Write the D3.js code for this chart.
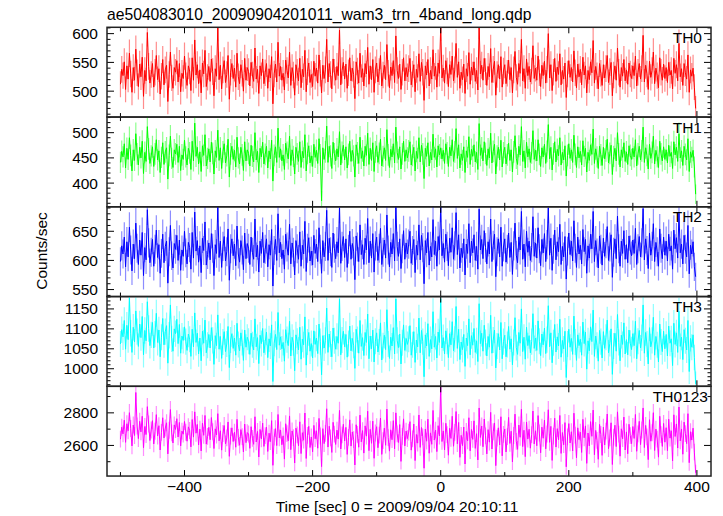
<!DOCTYPE html>
<html><head><meta charset="utf-8">
<script src="https://cdn.jsdelivr.net/npm/d3@7"></script>
<style>body{margin:0;background:#fff}svg{display:block}</style>
</head><body>
<script>
// ---- data (counts/sec, 2-s samples) ----
const title = "ae504083010_20090904201011_wam3_trn_4band_long.qdp";
const xLabel = "Time [sec] 0 = 2009/09/04 20:10:11";
const yLabel = "Counts/sec";
const timeStart = -500, timeStep = 2;
const xTicks = [-400, -200, 0, 200, 400];
const panelNames = ["TH0", "TH1", "TH2", "TH3", "TH0123"];
const panelColors = ["#ff0000", "#00ff00", "#0000ff", "#00ffff", "#ff00ff"];
const yDomains = [[455, 611], [353, 531], [538, 692], [956, 1181], [2412, 2963]];
const yMajorTicks = [[500, 550, 600], [400, 450, 500], [550, 600, 650], [1000, 1050, 1100, 1150], [2600, 2800]];
const yMinorStep = [10, 10, 10, 10, 100];

const th0 = [
512,538,527,551,503,544,521,566,530,498,541,519,573,532,508,547,525,559,491,536,518,602,543,514,529,
548,507,533,562,520,539,495,526,555,511,537,545,482,529,568,523,505,541,533,553,516,548,499,531,522,
561,527,510,544,535,501,558,519,589,528,546,513,537,497,549,530,571,508,524,543,517,556,534,492,539,
526,611,520,545,504,537,553,515,529,562,486,533,548,522,540,507,566,525,513,546,531,500,557,519,541,
534,509,550,528,517,575,521,538,496,544,527,556,513,532,548,505,539,523,560,478,530,547,516,585,526,
543,519,531,502,554,536,523,568,510,541,528,493,546,533,518,557,506,538,525,571,499,534,549,515,529,
508,552,526,540,514,563,531,497,545,522,537,590,516,548,529,504,556,533,519,543,527,606,511,536,550,
521,547,505,532,558,518,540,529,487,551,535,514,566,524,539,509,548,530,576,512,544,520,555,498,537,
549,516,534,562,509,528,545,520,581,531,506,542,527,553,515,596,536,522,547,503,533,558,518,541,525,
539,557,511,530,546,499,538,524,565,517,550,533,484,544,528,555,509,536,521,572,526,543,507,549,531,
612,523,540,514,553,535,508,546,529,561,518,537,583,524,551,505,533,520,547,496,539,526,567,512,542,
528,551,517,536,502,615,530,545,519,557,534,510,543,525,574,515,538,552,493,529,546,521,560,507,535,
546,513,531,554,520,541,497,537,569,524,512,548,531,590,518,539,505,556,527,543,516,535,579,522,540,
519,561,532,508,545,527,552,514,538,600,523,546,501,533,557,517,542,529,565,511,536,521,549,489,530,
553,524,541,516,570,532,506,547,525,538,511,559,528,544,497,536,520,551,532,588,514,543,527,504,548,
531,510,546,523,539,562,515,534,550,492,528,544,519,575,533,507,541,526,555,518,537,512,549,530,522,
544,527,561,509,533,548,521,539,597,516,545,530,503,552,524,536,568,513,540,527,506,558,533,519,547,
522,541,515,550,528,536,504,557,531,546,518,583,525,539,510,548,532,521,563,498,537,526,540,507,470];

const th1 = [
441,463,452,478,430,469,447,490,455,424,466,445,498,458,436,471,450,483,419,461,443,512,468,439,454,
472,433,458,486,446,464,421,451,480,437,462,470,408,455,493,449,431,466,458,477,441,473,425,456,447,
485,452,436,469,460,427,483,444,519,453,471,438,462,423,474,455,496,434,449,468,442,481,459,418,464,
451,505,445,470,429,462,478,440,454,487,412,458,473,447,465,432,491,450,438,471,456,425,482,444,466,
459,434,475,453,442,500,446,463,421,469,452,481,438,457,473,430,464,448,485,404,455,472,441,509,451,
468,444,456,427,479,461,448,493,435,466,453,418,471,458,443,482,431,463,450,496,424,459,474,440,454,
433,477,451,465,439,488,456,365,470,447,462,513,441,473,454,429,481,458,444,468,452,502,436,461,475,
446,472,430,457,483,443,465,454,412,476,460,439,491,449,464,434,473,455,499,437,469,445,480,423,462,
474,441,459,487,434,453,470,445,506,456,431,467,452,478,440,511,461,447,472,428,458,483,443,466,450,
464,482,436,455,471,424,463,449,490,442,475,458,409,469,453,480,434,461,446,497,451,468,432,474,456,
470,448,465,439,478,460,433,471,454,486,443,462,508,449,476,430,458,445,472,421,464,451,492,437,467,
453,476,442,461,427,518,455,470,444,482,459,435,468,450,499,440,463,477,418,454,471,446,485,432,460,
471,438,456,479,445,466,422,462,494,449,437,473,456,512,443,464,430,481,452,468,441,460,504,447,465,
444,486,457,433,470,452,477,439,463,516,448,471,426,458,482,442,467,454,490,436,461,446,474,414,455,
478,449,466,441,495,457,431,472,450,463,436,484,453,469,422,461,445,476,457,507,439,468,452,429,473,
456,435,471,448,464,487,440,459,475,417,453,469,444,500,458,432,466,451,480,443,462,437,474,455,447,
469,452,486,434,458,473,446,464,511,441,470,455,428,477,449,461,493,438,465,452,431,483,458,444,472,
447,466,440,475,453,461,429,482,456,471,443,498,450,464,435,473,457,446,488,423,462,451,465,432,378];

const th2 = [
598,625,611,640,589,632,606,657,618,582,628,603,664,621,593,635,609,648,574,622,601,687,630,596,614,
636,590,619,652,605,627,578,612,645,596,624,633,561,615,660,608,587,629,619,643,600,635,583,618,607,
650,613,594,631,622,585,648,604,683,616,634,597,625,579,638,617,666,592,610,630,601,646,621,574,627,
612,692,605,633,588,624,641,599,615,654,566,620,637,608,628,591,659,611,597,634,618,584,647,603,629,
621,593,640,614,602,671,606,626,580,633,612,648,596,619,637,589,627,609,653,556,617,636,600,680,613,
631,603,618,585,645,623,609,662,594,630,614,575,634,620,602,649,590,626,611,667,581,621,639,599,616,
592,643,612,628,598,656,619,578,634,606,624,686,600,638,615,588,647,621,603,632,613,690,595,624,641,
605,637,588,619,650,602,629,616,567,642,623,598,661,610,627,593,638,618,672,596,633,604,646,580,625,
640,600,621,655,593,614,635,604,678,618,589,631,611,646,599,692,624,607,637,586,620,651,602,630,611,
628,650,595,617,636,579,626,609,661,601,643,622,560,634,613,648,592,624,606,670,610,633,590,641,618,
692,608,629,597,645,624,591,638,614,656,602,625,682,610,644,587,621,605,637,575,628,612,663,596,633,
613,644,600,624,585,688,618,636,603,651,622,594,632,611,671,598,626,645,572,615,637,606,657,590,623,
637,597,619,647,605,631,576,625,664,609,596,640,618,684,602,628,589,650,614,633,600,622,675,607,630,
604,656,620,591,636,613,646,598,627,690,609,638,583,619,652,601,632,615,662,593,624,606,641,568,616,
647,610,633,599,668,621,588,640,611,626,594,653,615,636,578,625,604,645,620,684,598,634,613,587,642,
619,592,638,607,629,658,600,623,644,571,614,637,603,676,620,590,633,612,651,602,627,596,642,618,608,
635,612,655,593,620,641,606,630,689,601,637,617,586,647,609,624,663,598,631,615,590,654,621,603,640,
609,633,599,645,616,625,585,652,620,639,604,681,613,628,594,643,619,606,660,577,626,611,632,589,572];

const th3 = [
1062,1098,1080,1121,1049,1109,1073,1178,1089,1041,1104,1067,1145,1093,1056,1112,1078,1131,1035,1096,1070,1168,1101,1058,1085,
1116,1052,1087,1139,1066,1097,1030,1079,1126,1060,1093,1108,1014,1084,1160,1075,1044,1100,1088,1124,1063,1111,1039,1082,1071,
1105,1068,1046,1087,1074,1031,1099,1055,1140,1066,1089,1037,1077,1020,1094,1064,1122,1040,1059,1086,1052,1103,1071,1011,1083,
1058,1135,1049,1081,1026,1067,1093,1043,1062,1106,1003,1072,1088,1051,1077,1034,1114,1061,1045,1090,1066,1021,1097,1054,1079,
1069,1036,1089,1060,1047,1125,1055,1078,1013,1084,1063,1101,1040,1068,1092,1028,1075,1057,1110,968,1064,1086,1048,1141,1059,
1080,1050,1066,1019,1098,1073,1058,1119,1032,1079,1065,995,1085,1069,1047,1104,1024,1074,1060,1130,1009,1067,1091,1044,1063,
1027,1095,1061,1077,1038,1112,1068,985,1083,1052,1071,1152,1041,1087,1062,1030,1102,1070,1049,1081,1064,1175,1035,1072,1094,
1055,1086,1029,1063,1107,1045,1076,1059,1001,1099,1073,1039,1121,1056,1078,1033,1091,1066,1137,1025,1082,1050,1097,1017,1069,
1090,1042,1067,1115,1022,1058,1084,1048,1148,1062,1026,1079,1057,1103,1037,1175,1071,1053,1087,1012,1065,1110,1046,1076,1061,
1074,1108,1034,1060,1093,1016,1072,1055,1127,1040,1096,1068,980,1085,1057,1113,1031,1073,1050,1143,1054,1081,1027,1092,1066,
1175,1052,1078,1037,1095,1069,1028,1088,1060,1118,1045,1074,1156,1051,1099,1023,1067,1048,1086,1006,1077,1058,1125,1035,1083,
1059,1101,1041,1070,1018,1163,1063,1089,1044,1109,1066,1032,1081,1054,1134,1039,1072,1097,1002,1057,1088,1047,1116,1025,1068,
1084,1030,1061,1106,1049,1075,1010,1066,1128,1053,1036,1091,1064,1150,1043,1079,1024,1104,1058,1083,1040,1068,1138,1051,1077,
1046,1120,1069,1033,1087,1060,1102,1038,1073,1158,1055,1090,1015,1065,1111,1042,1080,1057,1124,1029,1071,1050,1094,978,1062,
1099,1054,1076,1036,1132,1067,1021,1085,1058,1074,1034,1117,1063,1092,999,1070,1045,1105,1068,1147,1031,1082,1059,1019,1096,
1068,1027,1093,1051,1079,1122,1040,1063,1100,986,1057,1089,1044,1136,1066,1020,1084,1061,1115,1037,1073,1035,1097,1064,1048,
1088,1058,1119,1025,1069,1096,1052,1078,1160,1039,1091,1062,1012,1103,1055,1071,1129,1034,1081,1060,1017,1112,1067,1043,1094,
1050,1086,1032,1107,1064,1075,1008,1114,1061,1090,1041,1144,1056,1079,1023,1098,1070,1047,1121,993,1076,1054,1085,1028,962];

const th0123 = [
2638,2712,2671,2755,2619,2733,2690,2801,2704,2597,2725,2661,2925,2719,2642,2748,2683,2779,2586,2716,2667,2838,2731,2630,2695,
2752,2609,2687,2789,2658,2721,2572,2680,2770,2646,2707,2739,2548,2693,2820,2677,2615,2726,2698,2764,2652,2741,2597,2688,2669,
2747,2681,2626,2714,2692,2591,2759,2651,2806,2675,2729,2603,2700,2566,2736,2662,2784,2608,2655,2711,2635,2771,2684,2581,2702,
2664,2795,2628,2690,2571,2673,2722,2610,2646,2744,2533,2657,2708,2624,2681,2589,2760,2649,2601,2697,2654,2560,2731,2617,2679,
2670,2582,2715,2644,2607,2776,2621,2686,2529,2698,2640,2737,2594,2660,2712,2563,2675,2623,2752,2478,2651,2703,2599,2790,2647,
2695,2604,2659,2516,2733,2672,2628,2781,2574,2689,2648,2492,2706,2665,2598,2745,2550,2678,2632,2799,2520,2662,2717,2587,2652,
2561,2723,2641,2690,2583,2766,2658,2470,2703,2611,2674,2825,2590,2718,2646,2557,2742,2669,2606,2694,2639,2815,2578,2665,2730,
2627,2711,2545,2650,2757,2596,2683,2636,2480,2727,2668,2589,2786,2622,2691,2553,2720,2657,2810,2568,2699,2613,2749,2521,2676,
2715,2586,2663,2768,2545,2630,2706,2601,2823,2648,2565,2696,2635,2752,2579,2800,2671,2618,2728,2502,2655,2763,2597,2688,2642,
2682,2746,2571,2640,2731,2507,2667,2614,2787,2588,2710,2653,2460,2700,2626,2761,2552,2677,2607,2815,2633,2694,2562,2721,2658,
2962,2624,2689,2573,2736,2666,2540,2705,2643,2779,2595,2680,2808,2610,2741,2527,2662,2599,2713,2486,2686,2628,2770,2567,2698,
2637,2751,2582,2672,2511,2830,2649,2719,2592,2762,2659,2548,2697,2620,2803,2578,2684,2738,2476,2645,2708,2603,2776,2536,2668,
2701,2560,2654,2772,2612,2687,2499,2661,2792,2625,2576,2725,2650,2822,2593,2693,2531,2744,2639,2699,2583,2666,2811,2609,2690,
2598,2783,2676,2555,2712,2644,2755,2579,2670,2819,2619,2717,2508,2657,2767,2590,2703,2634,2784,2551,2679,2604,2740,2469,2652,
2734,2615,2684,2566,2798,2663,2524,2708,2636,2681,2557,2760,2647,2720,2490,2676,2597,2746,2656,2817,2543,2692,2631,2515,2729,
2667,2539,2712,2603,2688,2793,2580,2646,2739,2483,2651,2724,2593,2806,2669,2534,2702,2641,2774,2572,2683,2549,2730,2660,2611,
2716,2643,2790,2564,2671,2748,2605,2695,2830,2587,2723,2652,2513,2758,2626,2678,2801,2569,2700,2639,2528,2779,2666,2594,2735,
2620,2709,2568,2761,2645,2690,2505,2788,2655,2732,2584,2836,2628,2701,2546,2743,2672,2611,2795,2494,2684,2633,2706,2559,2432];

const series = [th0, th1, th2, th3, th0123];

// ---- layout ----
const W = 723, H = 516;
const L = 107, R = 711, T = 27.3, PH = 89.75;
const FONT = "'Liberation Sans', Arial, Helvetica, sans-serif";
const labelRight = [702, 702, 702, 702, 708];

const svg = d3.select("body").append("svg").attr("width", W).attr("height", H)
  .style("font-family", FONT);

const x = d3.scaleLinear().domain([-521, 422]).range([L, R]);
const xMinor = d3.range(-500, 401, 100);

svg.append("text").attr("x", L).attr("y", 20).attr("font-size", 15.7).attr("fill", "#000").text(title);

series.forEach((vals, p) => {
  const top = T + p * PH, bot = top + PH;
  const y = d3.scaleLinear().domain(yDomains[p]).range([bot, top]);
  const g = svg.append("g");
  const clipId = "clip" + p;
  g.append("clipPath").attr("id", clipId).append("rect")
    .attr("x", L).attr("y", top).attr("width", R - L).attr("height", PH);

  const pts = vals.map((v, i) => ({t: timeStart + i * timeStep, v: v, e: Math.sqrt(v)}));
  const dg = g.append("g").attr("clip-path", `url(#${clipId})`);
  dg.selectAll("line.err").data(pts).join("line").attr("class", "err")
    .attr("x1", d => x(d.t)).attr("x2", d => x(d.t))
    .attr("y1", d => y(d.v - d.e)).attr("y2", d => y(d.v + d.e))
    .attr("stroke", panelColors[p]).attr("stroke-opacity", 0.45).attr("stroke-width", 1.2);
  dg.append("path").datum(pts)
    .attr("d", d3.line().x(d => x(d.t)).y(d => y(d.v)))
    .attr("fill", "none").attr("stroke", panelColors[p]).attr("stroke-width", 1);

  // ticks (inward, on all four sides)
  const tg = g.append("g").attr("stroke", "#000").attr("stroke-width", 1);
  xMinor.forEach(v => {
    const len = xTicks.includes(v) ? 6 : 4;
    tg.append("line").attr("x1", x(v)).attr("x2", x(v)).attr("y1", top).attr("y2", top + len);
    tg.append("line").attr("x1", x(v)).attr("x2", x(v)).attr("y1", bot).attr("y2", bot - len);
  });
  const [y0, y1] = yDomains[p];
  const minors = d3.range(Math.ceil(y0 / yMinorStep[p]) * yMinorStep[p], y1, yMinorStep[p]);
  minors.forEach(v => {
    const len = yMajorTicks[p].includes(v) ? 7 : 3.5;
    tg.append("line").attr("x1", L).attr("x2", L + len).attr("y1", y(v)).attr("y2", y(v));
    tg.append("line").attr("x1", R).attr("x2", R - len).attr("y1", y(v)).attr("y2", y(v));
  });
  yMajorTicks[p].forEach(v => {
    g.append("text").attr("x", 98).attr("y", y(v)).attr("dy", "0.36em")
      .attr("text-anchor", "end").attr("font-size", 15.5).text(v);
  });
  g.append("rect").attr("x", L).attr("y", top).attr("width", R - L).attr("height", PH)
    .attr("fill", "none").attr("stroke", "#222").attr("stroke-width", 1.5);
  g.append("text").attr("x", labelRight[p]).attr("y", top + 15.5).attr("text-anchor", "end")
    .attr("font-size", 15.5).text(panelNames[p]);
});

// bottom axis labels
const botY = T + 5 * PH;
xTicks.forEach(v => {
  svg.append("text").attr("x", x(v)).attr("y", botY + 16).attr("text-anchor", "middle")
    .attr("font-size", 15.5).text(v < 0 ? "\u2212" + Math.abs(v) : v);
});
svg.append("text").attr("x", 397).attr("y", 512).attr("text-anchor", "middle")
  .attr("font-size", 15.5).text(xLabel);
svg.append("text").attr("transform", "translate(47,251) rotate(-90)")
  .attr("text-anchor", "middle").attr("font-size", 15.5).text(yLabel);
</script>
</body></html>
